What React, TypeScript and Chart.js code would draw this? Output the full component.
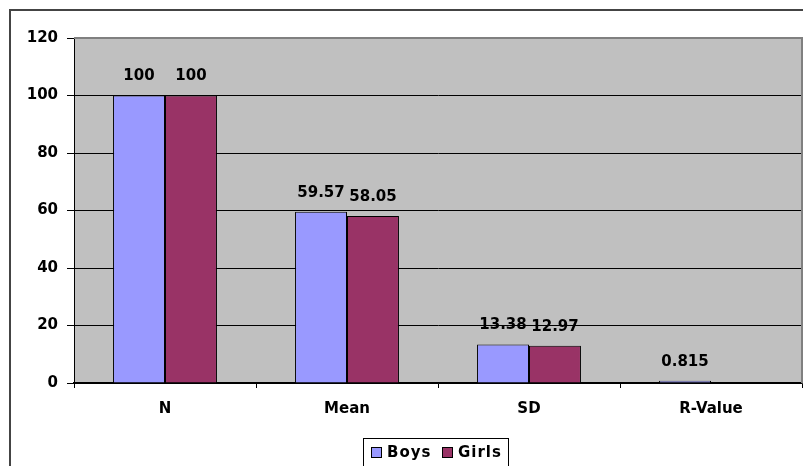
import React, { useEffect, useRef } from "react";
import { Chart, registerables } from "chart.js";

Chart.register(...registerables);

const categories = ["N", "Mean", "SD", "R-Value"];
const boysValues: (number | null)[] = [100, 59.57, 13.38, 0.815];
const girlsValues: (number | null)[] = [100, 58.05, 12.97, null];
const seriesNames = ["Boys", "Girls"];
const yTicks = [0, 20, 40, 60, 80, 100, 120];

const FONT = "'DejaVu Sans', Arial, sans-serif";

const decorPlugin = {
  id: "decor",
  beforeDraw(chart: any) {
    const { ctx, chartArea: a } = chart;
    ctx.save();
    ctx.fillStyle = "#ffffff";
    ctx.fillRect(0, 0, chart.width, chart.height);
    ctx.fillStyle = "#C0C0C0";
    ctx.fillRect(a.left, a.top, a.right - a.left, a.bottom - a.top);
    // outer border (cropped chart frame)
    ctx.strokeStyle = "#444444";
    ctx.lineWidth = 2;
    ctx.beginPath();
    ctx.moveTo(10, chart.height + 5);
    ctx.lineTo(10, 10);
    ctx.lineTo(chart.width + 5, 10);
    ctx.stroke();
    ctx.restore();
  },
  afterDatasetsDraw(chart: any) {
    const { ctx, chartArea: a } = chart;
    ctx.save();
    // plot area top/right border
    ctx.strokeStyle = "#808080";
    ctx.lineWidth = 2;
    ctx.beginPath();
    ctx.moveTo(a.left, a.top);
    ctx.lineTo(a.right, a.top);
    ctx.lineTo(a.right, a.bottom);
    ctx.stroke();
    // data labels
    ctx.fillStyle = "#000000";
    ctx.font = `bold 15px ${FONT}`;
    ctx.textAlign = "center";
    ctx.textBaseline = "middle";
    chart.data.datasets.forEach((ds: any, i: number) => {
      const meta = chart.getDatasetMeta(i);
      meta.data.forEach((el: any, j: number) => {
        const v = ds.data[j];
        if (v === null || v === undefined) return;
        ctx.fillText(String(v), el.x, el.y - 19);
      });
    });
    ctx.restore();
  },
  afterDraw(chart: any) {
    const { ctx } = chart;
    ctx.save();
    // legend box
    const bx = 363.5, by = 438.5, bw = 145, bh = 40;
    ctx.strokeStyle = "#000000";
    ctx.lineWidth = 1;
    ctx.fillStyle = "#ffffff";
    ctx.fillRect(bx, by, bw, bh);
    ctx.strokeRect(bx, by, bw, bh);
    ctx.font = `bold 15px ${FONT}`;
    (ctx as any).letterSpacing = "1px";
    ctx.textBaseline = "middle";
    ctx.textAlign = "left";
    const items = [
      { sx: 371.5, tx: 387 },
      { sx: 442.5, tx: 458 },
    ];
    chart.data.datasets.forEach((ds: any, i: number) => {
      const it = items[i];
      if (!it) return;
      ctx.fillStyle = ds.backgroundColor;
      ctx.fillRect(it.sx, 447.5, 10, 10);
      ctx.strokeStyle = "#000000";
      ctx.strokeRect(it.sx, 447.5, 10, 10);
      ctx.fillStyle = "#000000";
      ctx.fillText(ds.label, it.tx, 453);
    });
    ctx.restore();
  },
};

export default function App() {
  const ref = useRef<HTMLCanvasElement | null>(null);
  useEffect(() => {
    if (!ref.current) return;
    const chart = new Chart(ref.current, {
      type: "bar",
      data: {
        labels: categories,
        datasets: [
          {
            label: seriesNames[0],
            data: boysValues,
            backgroundColor: "#9999FF",
            borderColor: "#000000",
            borderWidth: 1,
            categoryPercentage: 0.571,
            barPercentage: 1,
          },
          {
            label: seriesNames[1],
            data: girlsValues,
            backgroundColor: "#993366",
            borderColor: "#000000",
            borderWidth: 1,
            categoryPercentage: 0.571,
            barPercentage: 1,
          },
        ],
      },
      options: {
        animation: false,
        responsive: false,
        layout: { padding: { left: 0, top: 38, right: 1, bottom: 0 } },
        plugins: {
          legend: { display: false },
          tooltip: { enabled: false },
        },
        scales: {
          x: {
            offset: true,
            grid: {
              offset: true,
              drawOnChartArea: false,
              drawTicks: true,
              tickLength: 5,
              color: "#000000",
            },
            border: { display: true, color: "#000000", width: 1.5 },
            ticks: {
              color: "#000000",
              padding: 12,
              font: { family: FONT, size: 15, weight: "bold" },
            },
            afterFit(scale: any) {
              scale.height = 83;
            },
          },
          y: {
            min: 0,
            max: 120,
            afterBuildTicks(scale: any) {
              scale.ticks = yTicks.map((v) => ({ value: v }));
            },
            grid: {
              color: "#000000",
              tickLength: 7,
              lineWidth: 1,
            },
            border: { display: true, color: "#000000", width: 1 },
            ticks: {
              color: "#000000",
              padding: 9,
              font: { family: FONT, size: 15, weight: "bold" },
            },
            afterFit(scale: any) {
              scale.width = 74;
            },
          },
        },
      },
      plugins: [decorPlugin],
    });
    return () => chart.destroy();
  }, []);
  return (
    <div style={{ position: "absolute", left: 0, top: 0, width: 803, height: 466, overflow: "hidden" }}>
      <canvas ref={ref} width={803} height={466} style={{ width: 803, height: 466, display: "block" }} />
    </div>
  );
}
